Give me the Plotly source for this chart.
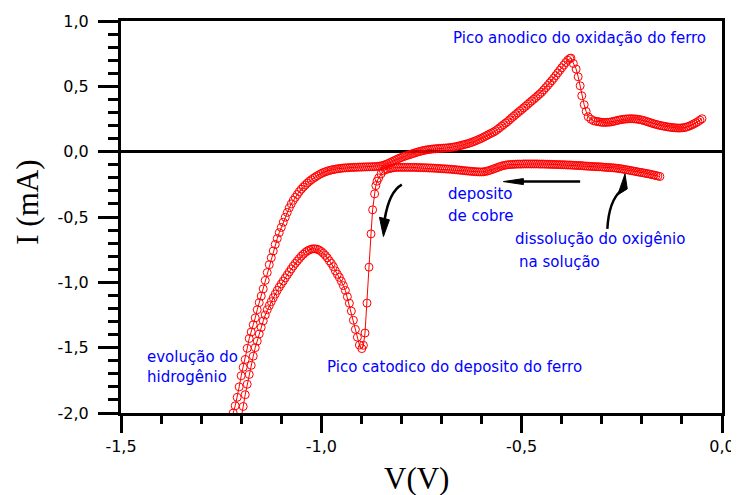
import plotly.graph_objects as go

# Cyclic voltammogram
# cathodic scan: from -0.155 V towards negative potentials
cath_v = [
    -0.155, -0.160, -0.165, -0.170, -0.175, -0.180, -0.185, -0.190, -0.195, -0.200,
    -0.205, -0.210, -0.215, -0.220, -0.225, -0.230, -0.235, -0.240, -0.245, -0.250,
    -0.255, -0.260, -0.265, -0.270, -0.275, -0.280, -0.285, -0.290, -0.295, -0.300,
    -0.305, -0.310, -0.315, -0.320, -0.325, -0.330, -0.335, -0.340, -0.345, -0.350,
    -0.355, -0.360, -0.365, -0.370, -0.375, -0.380, -0.385, -0.390, -0.395, -0.400,
    -0.405, -0.410, -0.415, -0.420, -0.425, -0.430, -0.435, -0.440, -0.445, -0.450,
    -0.455, -0.460, -0.465, -0.470, -0.475, -0.480, -0.485, -0.490, -0.495, -0.500,
    -0.505, -0.510, -0.515, -0.520, -0.525, -0.530, -0.535, -0.540, -0.545, -0.550,
    -0.555, -0.560, -0.565, -0.570, -0.575, -0.580, -0.585, -0.590, -0.595, -0.600,
    -0.605, -0.610, -0.615, -0.620, -0.625, -0.630, -0.635, -0.640, -0.645, -0.650,
    -0.655, -0.660, -0.665, -0.670, -0.675, -0.680, -0.685, -0.690, -0.695, -0.700,
    -0.705, -0.710, -0.715, -0.720, -0.725, -0.730, -0.735, -0.740, -0.745, -0.750,
    -0.755, -0.760, -0.765, -0.770, -0.775, -0.780, -0.785, -0.790, -0.795, -0.800,
    -0.805, -0.810, -0.815, -0.820, -0.825, -0.830, -0.835, -0.840, -0.845,
    -0.851, -0.857, -0.861, -0.864, -0.867, -0.872, -0.876, -0.881, -0.886, -0.891,
    -0.895, -0.899,
    -0.905, -0.910, -0.915, -0.920, -0.925, -0.930, -0.935, -0.940, -0.945, -0.950,
    -0.955, -0.960, -0.965, -0.970, -0.975, -0.980, -0.985, -0.990, -0.995, -1.000,
    -1.005, -1.010, -1.015, -1.020, -1.025, -1.030, -1.035, -1.040, -1.045, -1.050,
    -1.055, -1.060, -1.065, -1.070, -1.075, -1.080, -1.085, -1.090, -1.095, -1.100,
    -1.105, -1.110, -1.115, -1.120, -1.125, -1.130, -1.135, -1.140, -1.145, -1.150,
    -1.155, -1.160, -1.165, -1.170, -1.175, -1.180, -1.185, -1.190, -1.195, -1.200,
    -1.205, -1.210,
]
cath_i = [
    -0.190, -0.186, -0.183, -0.179, -0.176, -0.172, -0.169, -0.166, -0.163, -0.160,
    -0.158, -0.155, -0.152, -0.149, -0.146, -0.143, -0.140, -0.138, -0.135, -0.132,
    -0.130, -0.128, -0.126, -0.124, -0.123, -0.122, -0.121, -0.120, -0.119, -0.117,
    -0.116, -0.115, -0.115, -0.114, -0.113, -0.112, -0.111, -0.110, -0.109, -0.107,
    -0.106, -0.106, -0.105, -0.104, -0.103, -0.102, -0.102, -0.101, -0.100, -0.100,
    -0.099, -0.099, -0.098, -0.098, -0.097, -0.097, -0.096, -0.096, -0.095, -0.095,
    -0.095, -0.094, -0.094, -0.094, -0.094, -0.094, -0.094, -0.094, -0.094, -0.095,
    -0.095, -0.095, -0.096, -0.097, -0.098, -0.099, -0.100, -0.103, -0.106, -0.110,
    -0.115, -0.121, -0.127, -0.132, -0.138, -0.143, -0.148, -0.151, -0.154, -0.155,
    -0.155, -0.154, -0.153, -0.152, -0.151, -0.149, -0.148, -0.146, -0.145, -0.143,
    -0.141, -0.140, -0.138, -0.137, -0.135, -0.134, -0.133, -0.132, -0.131, -0.130,
    -0.129, -0.128, -0.127, -0.126, -0.125, -0.125, -0.124, -0.123, -0.123, -0.122,
    -0.122, -0.121, -0.121, -0.120, -0.120, -0.120, -0.120, -0.120, -0.120, -0.120,
    -0.120, -0.120, -0.121, -0.123, -0.126, -0.129, -0.133, -0.138, -0.146,
    -0.170, -0.201, -0.226, -0.260, -0.323, -0.445, -0.629, -0.884, -1.159, -1.388,
    -1.482, -1.507,
    -1.480, -1.420, -1.360, -1.290, -1.220, -1.160, -1.110, -1.062, -1.025, -0.992,
    -0.962, -0.938, -0.912, -0.880, -0.855, -0.835, -0.812, -0.794, -0.778, -0.764,
    -0.754, -0.747, -0.744, -0.743, -0.746, -0.752, -0.760, -0.771, -0.785, -0.800,
    -0.818, -0.836, -0.855, -0.875, -0.897, -0.920, -0.943, -0.966, -0.990, -1.012,
    -1.036, -1.062, -1.090, -1.118, -1.148, -1.178, -1.210, -1.250, -1.295, -1.345,
    -1.395, -1.450, -1.500, -1.565, -1.635, -1.705, -1.780, -1.860, -1.950, -2.040,
    -2.130, -2.220,
]

# anodic scan: back from the switching potential to -0.05 V
anod_v = [
    -1.230, -1.225, -1.220, -1.215, -1.210, -1.205, -1.200, -1.195, -1.190, -1.185,
    -1.180, -1.175, -1.170, -1.165, -1.160, -1.155, -1.150, -1.145, -1.140, -1.135,
    -1.130, -1.125, -1.120, -1.115, -1.110, -1.105, -1.100, -1.095, -1.090, -1.085,
    -1.080, -1.075, -1.070, -1.065, -1.060, -1.055, -1.050, -1.045, -1.040, -1.035,
    -1.030, -1.025, -1.020, -1.015, -1.010, -1.005, -1.000, -0.995, -0.990, -0.985,
    -0.980, -0.975, -0.970, -0.965, -0.960, -0.955, -0.950, -0.945, -0.940, -0.935,
    -0.930, -0.925, -0.920, -0.915, -0.910, -0.905, -0.900, -0.895, -0.890, -0.885,
    -0.880, -0.875, -0.870, -0.865, -0.860, -0.855, -0.850, -0.845, -0.840, -0.835,
    -0.830, -0.825, -0.820, -0.815, -0.810, -0.805, -0.800, -0.795, -0.790, -0.785,
    -0.780, -0.775, -0.770, -0.765, -0.760, -0.755, -0.750, -0.745, -0.740, -0.735,
    -0.730, -0.725, -0.720, -0.715, -0.710, -0.705, -0.700, -0.695, -0.690, -0.685,
    -0.680, -0.675, -0.670, -0.665, -0.660, -0.655, -0.650, -0.645, -0.640, -0.635,
    -0.630, -0.625, -0.620, -0.615, -0.610, -0.605, -0.600, -0.595, -0.590, -0.585,
    -0.580, -0.575, -0.570, -0.565, -0.560, -0.555, -0.550, -0.545, -0.540, -0.535,
    -0.530, -0.525, -0.520, -0.515, -0.510, -0.505, -0.500, -0.495, -0.490, -0.485,
    -0.480, -0.475, -0.470, -0.465, -0.460, -0.455, -0.450, -0.445, -0.440, -0.435,
    -0.430, -0.425, -0.420, -0.415, -0.410, -0.405, -0.400, -0.395, -0.390, -0.385,
    -0.380,
    -0.377, -0.371, -0.364, -0.359, -0.354, -0.350, -0.344, -0.339, -0.334, -0.327,
    -0.321,
    -0.315, -0.310, -0.305, -0.300, -0.295, -0.290, -0.285, -0.280, -0.275, -0.270,
    -0.265, -0.260, -0.255, -0.250, -0.245, -0.240, -0.235, -0.230, -0.225, -0.220,
    -0.215, -0.210, -0.205, -0.200, -0.195, -0.190, -0.185, -0.180, -0.175, -0.170,
    -0.165, -0.160, -0.155, -0.150, -0.145, -0.140, -0.135, -0.130, -0.125, -0.120,
    -0.115, -0.110, -0.105, -0.100, -0.095, -0.090, -0.085, -0.080, -0.075, -0.070,
    -0.065, -0.060, -0.055, -0.050,
]
anod_i = [
    -2.300, -2.130, -2.000, -1.945, -1.880, -1.800, -1.715, -1.650, -1.590, -1.505,
    -1.430, -1.380, -1.325, -1.272, -1.210, -1.155, -1.105, -1.050, -0.985, -0.925,
    -0.865, -0.812, -0.760, -0.710, -0.665, -0.620, -0.580, -0.540, -0.502, -0.465,
    -0.430, -0.400, -0.372, -0.350, -0.328, -0.306, -0.287, -0.270, -0.255, -0.240,
    -0.227, -0.215, -0.204, -0.194, -0.184, -0.175, -0.167, -0.160, -0.154, -0.149,
    -0.144, -0.140, -0.137, -0.134, -0.131, -0.129, -0.127, -0.125, -0.124, -0.123,
    -0.122, -0.121, -0.120, -0.120, -0.119, -0.118, -0.118, -0.117, -0.117, -0.116,
    -0.116, -0.115, -0.115, -0.114, -0.113, -0.111, -0.108, -0.104, -0.099, -0.093,
    -0.086, -0.079, -0.071, -0.064, -0.057, -0.050, -0.044, -0.038, -0.033, -0.028,
    -0.023, -0.018, -0.013, -0.008, -0.003, 0.001, 0.005, 0.009, 0.012, 0.015,
    0.017, 0.019, 0.021, 0.022, 0.024, 0.025, 0.026, 0.027, 0.028, 0.029,
    0.031, 0.033, 0.035, 0.038, 0.041, 0.045, 0.049, 0.053, 0.057, 0.061,
    0.066, 0.071, 0.077, 0.083, 0.090, 0.096, 0.103, 0.111, 0.119, 0.127,
    0.135, 0.143, 0.150, 0.160, 0.171, 0.183, 0.195, 0.207, 0.219, 0.230,
    0.244, 0.258, 0.271, 0.284, 0.297, 0.310, 0.322, 0.335, 0.348, 0.362,
    0.375, 0.388, 0.401, 0.414, 0.428, 0.441, 0.455, 0.472, 0.490, 0.507,
    0.525, 0.543, 0.562, 0.582, 0.602, 0.622, 0.642, 0.662, 0.682, 0.700,
    0.713,
    0.716, 0.675, 0.632, 0.573, 0.504, 0.428, 0.359, 0.308, 0.267, 0.248,
    0.237,
    0.233, 0.230, 0.227, 0.225, 0.224, 0.224, 0.225, 0.226, 0.229, 0.232,
    0.236, 0.240, 0.243, 0.246, 0.248, 0.250, 0.251, 0.252, 0.252, 0.251,
    0.250, 0.248, 0.245, 0.242, 0.238, 0.233, 0.228, 0.223, 0.218, 0.213,
    0.209, 0.205, 0.201, 0.198, 0.195, 0.192, 0.189, 0.187, 0.185, 0.183,
    0.182, 0.181, 0.181, 0.182, 0.184, 0.187, 0.192, 0.198, 0.205, 0.213,
    0.221, 0.230, 0.241, 0.252,
]

assert len(cath_v) == len(cath_i)
assert len(anod_v) == len(anod_i)

x_ticks = [-1.5, -1.0, -0.5, 0.0]
x_labels = ["-1,5", "-1,0", "-0,5", "0,0"]
y_ticks = [-2.0, -1.5, -1.0, -0.5, 0.0, 0.5, 1.0]
y_labels = ["-2,0", "-1,5", "-1,0", "-0,5", "0,0", "0,5", "1,0"]

fig = go.Figure()
fig.add_trace(go.Scatter(
    x=cath_v + anod_v,
    y=cath_i + anod_i,
    mode="lines+markers",
    line=dict(color="red", width=1),
    marker=dict(symbol="circle-open", size=8, color="red", line=dict(width=1)),
))

tick_font = dict(family="DejaVu Sans", size=16, color="black")
fig.update_xaxes(
    range=[-1.5, 0.0], tickmode="array", tickvals=x_ticks, ticktext=x_labels,
    ticks="outside", ticklen=17, tickwidth=3, tickcolor="black",
    minor=dict(tickmode="linear", tick0=-1.5, dtick=0.1, ticks="outside",
               ticklen=8, tickwidth=3, tickcolor="black", showgrid=False),
    showline=True, linewidth=3, linecolor="black", mirror=True, automargin=False,
    showgrid=False, zeroline=False, tickfont=tick_font, ticklabelstandoff=0,
)
fig.update_yaxes(
    range=[-2.0, 1.0], tickmode="array", tickvals=y_ticks, ticktext=y_labels,
    ticks="outside", ticklen=20, tickwidth=3, tickcolor="black",
    minor=dict(tickmode="linear", tick0=-2.0, dtick=0.1, ticks="outside",
               ticklen=10, tickwidth=3, tickcolor="black", showgrid=False),
    showline=True, linewidth=3, linecolor="black", mirror=True, automargin=False,
    showgrid=False, zeroline=True, zerolinecolor="black", zerolinewidth=3,
    tickfont=tick_font, ticklabelstandoff=6,
)

# blue notes on the curve
note_font = dict(family="DejaVu Sans", size=15, color="blue")
notes = [
    ("Pico anodico do oxidação do ferro", -0.676, 0.871),
    ("deposito", -0.689, -0.321),
    ("de cobre", -0.689, -0.489),
    ("dissolução do oxigênio", -0.521, -0.672),
    ("na solução", -0.511, -0.848),
    ("evolução do", -1.439, -1.574),
    ("hidrogênio", -1.439, -1.727),
    ("Pico catodico do deposito do ferro", -0.991, -1.650),
]
for txt, x, y in notes:
    fig.add_annotation(text=txt, x=x, y=y, xref="x", yref="y", showarrow=False,
                       xanchor="left", yanchor="middle", font=note_font)

# axis titles
title_font = dict(family="Liberation Serif", size=31, color="black")
fig.add_annotation(text="I (mA)", x=-0.156, y=0.537, xref="paper", yref="paper",
                   textangle=-90, showarrow=False, font=title_font,
                   xanchor="center", yanchor="middle")
fig.add_annotation(text="V(V)", x=0.491, y=-0.166, xref="paper", yref="paper",
                   showarrow=False, font=title_font,
                   xanchor="center", yanchor="middle")

# black arrows (bodies + filled heads)
body = dict(color="black", width=2.5)
head = dict(color="black", width=1)
arrows = [
    ("M -0.354,-0.229 L -0.500,-0.229",
     "M -0.5456,-0.229 L -0.4957,-0.206 L -0.4957,-0.252 Z"),
    ("M -0.7991,-0.2521 Q -0.8307,-0.3056 -0.8420,-0.5195",
     "M -0.8450,-0.6494 L -0.8549,-0.5019 L -0.8300,-0.5218 Z"),
    ("M -0.2862,-0.5905 Q -0.2820,-0.3743 -0.2521,-0.2979",
     "M -0.2421,-0.1704 L -0.2603,-0.3308 L -0.2364,-0.2850 Z"),
]
for b, h in arrows:
    fig.add_shape(type="path", path=b, xref="x", yref="y", line=body, layer="above")
    fig.add_shape(type="path", path=h, xref="x", yref="y", line=head,
                  fillcolor="black", layer="above")

# the page body adds an 8px offset, so the margins are shifted by that amount
fig.update_layout(
    width=739, height=495,
    margin=dict(l=113, r=25, t=13, b=90),
    paper_bgcolor="white", plot_bgcolor="white",
    showlegend=False,
)

fig.write_html("out.html")
